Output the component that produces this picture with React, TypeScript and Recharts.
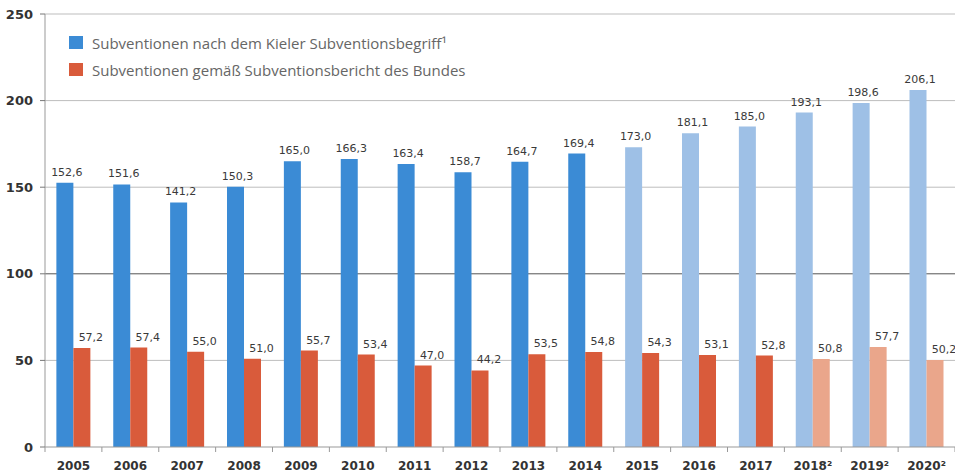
import React from "react";
import { BarChart, Bar, XAxis, YAxis, CartesianGrid, LabelList, Cell } from "recharts";

const years = ["2005", "2006", "2007", "2008", "2009", "2010", "2011", "2012", "2013", "2014", "2015", "2016", "2017", "2018²", "2019²", "2020²"];
const kielerValues = [152.6, 151.6, 141.2, 150.3, 165.0, 166.3, 163.4, 158.7, 164.7, 169.4, 173.0, 181.1, 185.0, 193.1, 198.6, 206.1];
const bundValues = [57.2, 57.4, 55.0, 51.0, 55.7, 53.4, 47.0, 44.2, 53.5, 54.8, 54.3, 53.1, 52.8, 50.8, 57.7, 50.2];
const yTicks = [0, 50, 100, 150, 200, 250];

const kielerName = "Subventionen nach dem Kieler Subventionsbegriff¹";
const bundName = "Subventionen gemäß Subventionsbericht des Bundes";

// from here on the values are estimates / projections (lighter colour)
const kielerLightFrom = 10;
const bundLightFrom = 13;

const BLUE = "#3b8bd5";
const BLUE_LIGHT = "#9ec0e6";
const RED = "#d95b3b";
const RED_LIGHT = "#eaa68b";

const W = 955;
const H = 476;
const MARGIN = { top: 14, right: 0, bottom: 0, left: 0 };
const X_AXIS_H = 29;
const Y_AXIS_W = 45;
const AXIS_Y = H - X_AXIS_H;
const BAND = (W - MARGIN.left - MARGIN.right - Y_AXIS_W) / years.length;

const data = years.map((year, i) => ({
  year,
  kieler: kielerValues[i],
  bund: bundValues[i]
}));

const fmt = (v: number) => v.toFixed(1).replace(".", ",");

const makeLabel = (dx: number) => (props: any) => {
  const { x, y, width, value } = props;
  return <text x={x + width / 2 + dx} y={y - 7} textAnchor="middle" fontSize={11} fill="#3a3a3a" fontFamily="DejaVu Sans">
      {fmt(value)}
    </text>;
};

const YearTick = (props: any) => {
  const { x, payload, index } = props;
  return <g>
      <line x1={x - BAND / 2} y1={AXIS_Y} x2={x - BAND / 2} y2={AXIS_Y + 5} stroke="#999" />
      {index === years.length - 1 && <line x1={x + BAND / 2} y1={AXIS_Y} x2={x + BAND / 2} y2={AXIS_Y + 5} stroke="#999" />}
      <text x={x} y={AXIS_Y + 23} textAnchor="middle" fontSize={12} fontWeight="bold" fill="#333" fontFamily="DejaVu Sans">
        {payload.value}
      </text>
    </g>;
};

const LegendBox = () => {
  const items = [{ name: kielerName, color: BLUE }, { name: bundName, color: RED }];
  return <div style={{ position: "absolute", left: 69, top: 29, fontFamily: "Open Sans", fontSize: 15, color: "#666" }}>
      {items.map(it => <div key={it.name} style={{ display: "flex", alignItems: "center", height: 27 }}>
          <span style={{ display: "inline-block", width: 14, height: 13, background: it.color, marginRight: 9 }} />
          <span>{it.name}</span>
        </div>)}
    </div>;
};

export default function App() {
  return <div style={{ position: "absolute", left: 0, top: 0, width: W, height: H, background: "#fff" }}>
      <BarChart width={W} height={H} data={data} margin={MARGIN} barCategoryGap="20%" barGap={0}>
        <CartesianGrid vertical={false} stroke="#bdbdbd" horizontalValues={[50, 150, 200, 250]} />
        <CartesianGrid vertical={false} stroke="#555" horizontalValues={[100]} />
        <XAxis dataKey="year" height={X_AXIS_H} axisLine={{ stroke: "#999" }} tickLine={false} tick={<YearTick />} interval={0} />
        <YAxis domain={[0, 250]} ticks={yTicks} width={Y_AXIS_W} tickSize={5} tickMargin={7} axisLine={{ stroke: "#999" }} tickLine={{ stroke: "#777" }} tick={{ fontSize: 13, fontWeight: "bold", fill: "#333", fontFamily: "DejaVu Sans" }} />
        <Bar dataKey="kieler" name={kielerName} fill={BLUE} isAnimationActive={false}>
          {data.map((_, i) => <Cell key={`k-${i}`} fill={i >= kielerLightFrom ? BLUE_LIGHT : BLUE} />)}
          <LabelList dataKey="kieler" content={makeLabel(2)} />
        </Bar>
        <Bar dataKey="bund" name={bundName} fill={RED} isAnimationActive={false}>
          {data.map((_, i) => <Cell key={`b-${i}`} fill={i >= bundLightFrom ? RED_LIGHT : RED} />)}
          <LabelList dataKey="bund" content={makeLabel(9)} />
        </Bar>
      </BarChart>
      <LegendBox />
    </div>;
}
